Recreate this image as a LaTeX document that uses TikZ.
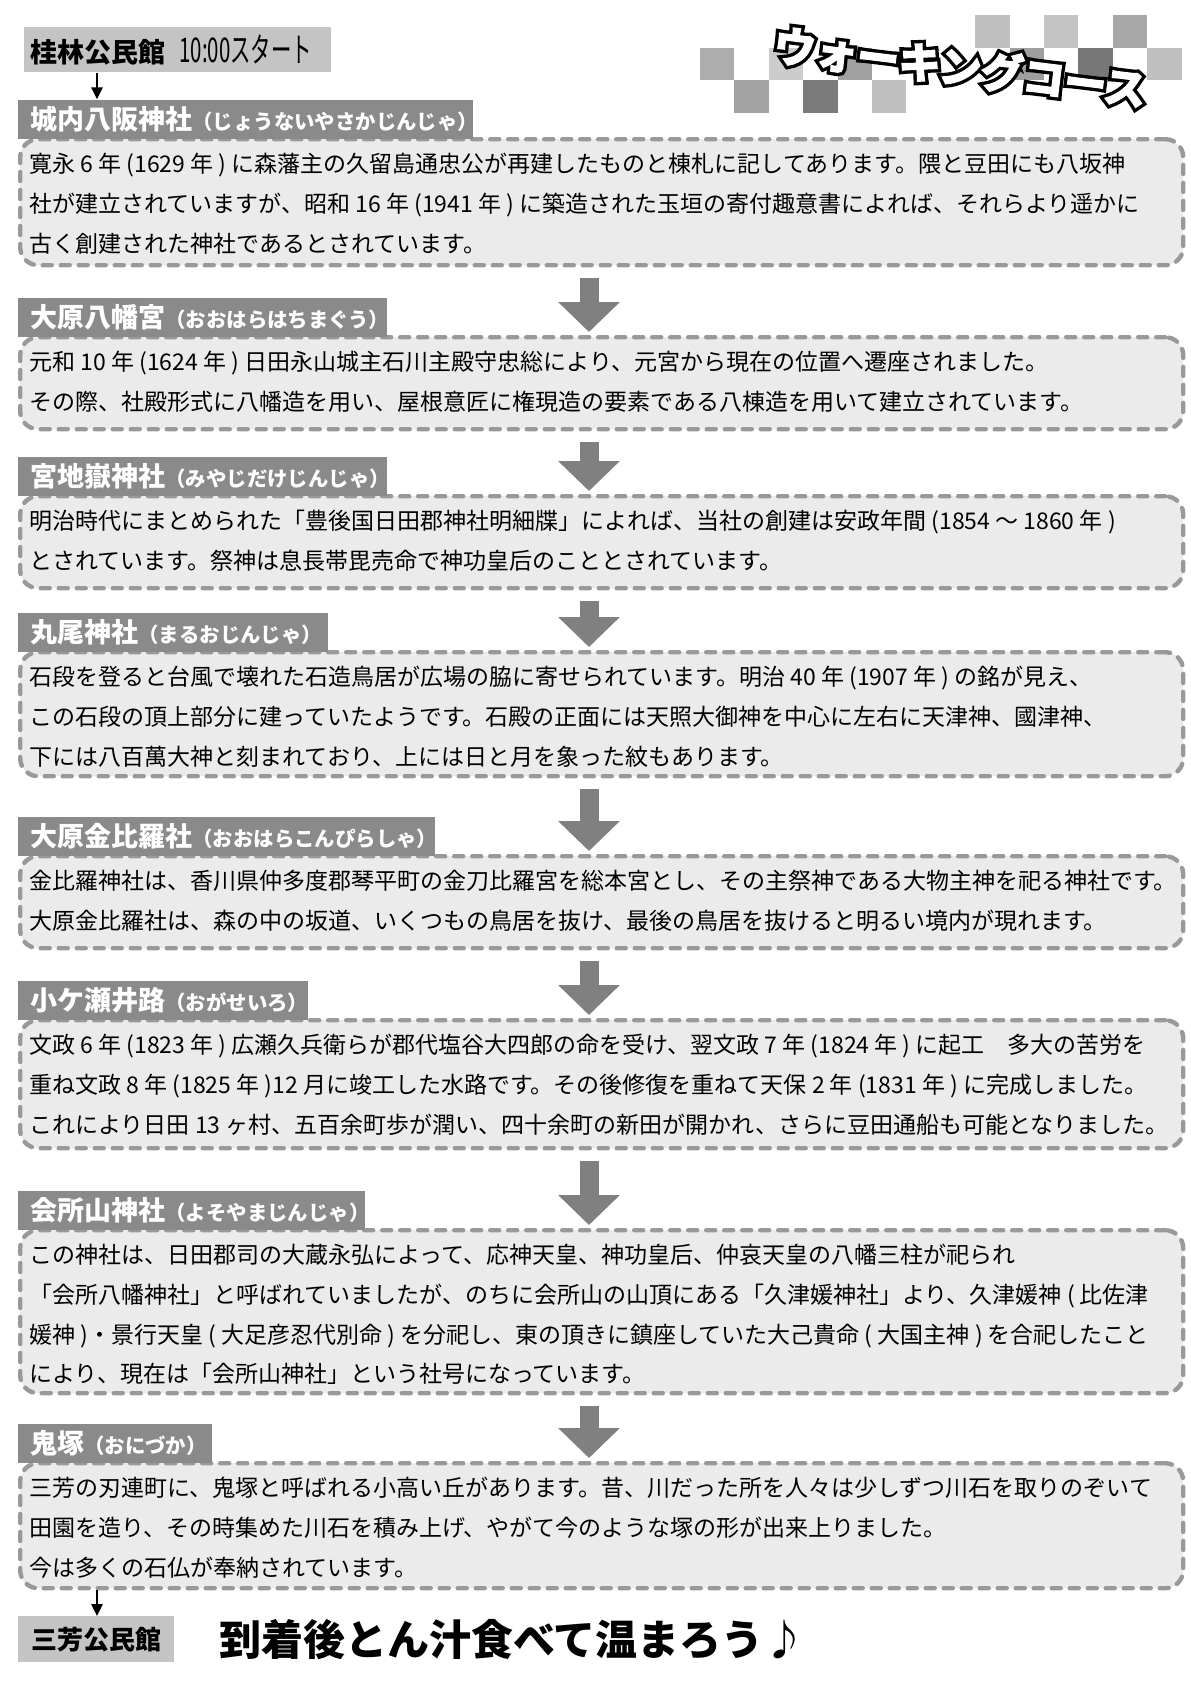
\documentclass[tikz,border=0pt]{standalone}
\usepackage{fontspec}
\setmainfont{Noto Sans CJK JP}
\newfontfamily\narrowfont[FakeStretch=0.6]{Noto Sans CJK JP}
\newfontfamily\rimfont[FakeBold=21]{Noto Sans CJK JP Bold}
\newfontfamily\fillfont[FakeBold=5]{Noto Sans CJK JP Bold}
\usepackage{tikz}
\usetikzlibrary{calc,positioning,arrows.meta}
\newcommand{\yomi}[1]{{\fontsize{10.2bp}{12bp}\selectfont #1}}

\begin{document}
\begin{tikzpicture}[x=1bp,y=-1bp,
  placebox/.style={fill=black!23, anchor=north west, inner xsep=3bp, inner ysep=0pt, align=left},
  titlebar/.style={fill=black!46, text=white, anchor=south west, inner xsep=6bp, inner ysep=0pt, minimum height=19.5bp, align=left, font=\bfseries\fontsize{13.5bp}{15bp}\selectfont},
  bodybox/.style={draw=black!40, fill=black!8, line width=2.2bp, dash pattern=on 4.5bp off 4.5bp, line cap=round, rounded corners=9bp, anchor=north west, minimum width=581.5bp, inner sep=0pt},
  bodytext/.style={anchor=north west, align=left, inner sep=0pt, font=\fontsize{11.5bp}{19.8bp}\selectfont},
  headline/.style={rotate=-7},
  flowarrow/.style={draw=black!50, line width=9.5bp, -{Triangle[width=30bp,length=15bp]}},
  smallarrow/.style={line width=1.2bp, -{Triangle[width=5.5bp,length=6bp]}}]
\useasboundingbox (0,0) rectangle (595.5,842);

\foreach \k/\r/\g in {0/1/32,1/2/36,2/1/20,3/2/52,4/1/37,5/2/25,8/0/25,9/1/38,10/0/23,11/1/53,12/0/34,13/1/25}
  \fill[black!\g] (350+17.2*\k,7.5+16.3*\r) rectangle ++(17.2,16.3);
\node[headline, text=black, font=\rimfont\fontsize{21bp}{24bp}\selectfont] (hdrrim) at (480,33.5) {ウォーキングコース};
\node[headline, text=white, font=\fillfont\fontsize{21bp}{24bp}\selectfont] (hdr) at (hdrrim) {ウォーキングコース};

\node[placebox, text width=147.5bp, minimum height=22.5bp] (start) at (12,13.5) {{\bfseries\fontsize{13.5bp}{15bp}\selectfont 桂林公民館}\hspace{7bp}{\narrowfont\fontsize{17bp}{18bp}\selectfont 10:00スタート}};

\node[bodybox, minimum height=63bp] (box1) at (9,68.5) {};
\node[titlebar, text width=215.5bp] (ttl1) at ([yshift=-1.1bp]box1.north west) {城内八阪神社\yomi{（じょうないやさかじんじゃ）}};
\node[bodytext] (txt1) at ([shift={(5.5,8)}]box1.north west) {寛永 6 年 (1629 年 ) に森藩主の久留島通忠公が再建したものと棟札に記してあります。隈と豆田にも八坂神\\
社が建立されていますが、昭和 16 年 (1941 年 ) に築造された玉垣の寄付趣意書によれば、それらより遥かに\\
古く創建された神社であるとされています。};

\node[bodybox, minimum height=46bp] (box2) at (9,167.5) {};
\node[titlebar, text width=172.5bp] (ttl2) at ([yshift=-1.1bp]box2.north west) {大原八幡宮\yomi{（おおはらはちまぐう）}};
\node[bodytext] (txt2) at ([shift={(5.5,8)}]box2.north west) {元和 10 年 (1624 年 ) 日田永山城主石川主殿守忠総により、元宮から現在の位置へ遷座されました。\\
その際、社殿形式に八幡造を用い、屋根意匠に権現造の要素である八棟造を用いて建立されています。};

\node[bodybox, minimum height=46bp] (box3) at (9,247) {};
\node[titlebar, text width=172.5bp] (ttl3) at ([yshift=-1.1bp]box3.north west) {宮地嶽神社\yomi{（みやじだけじんじゃ）}};
\node[bodytext] (txt3) at ([shift={(5.5,8)}]box3.north west) {明治時代にまとめられた「豊後国日田郡神社明細牒」によれば、当社の創建は安政年間 (1854 ～ 1860 年 )\\
とされています。祭神は息長帯毘売命で神功皇后のこととされています。};

\node[bodybox, minimum height=62bp] (box4) at (9,325) {};
\node[titlebar, text width=143bp] (ttl4) at ([yshift=-1.1bp]box4.north west) {丸尾神社\yomi{（まるおじんじゃ）}};
\node[bodytext] (txt4) at ([shift={(5.5,8)}]box4.north west) {石段を登ると台風で壊れた石造鳥居が広場の脇に寄せられています。明治 40 年 (1907 年 ) の銘が見え、\\
この石段の頂上部分に建っていたようです。石殿の正面には天照大御神を中心に左右に天津神、國津神、\\
下には八百萬大神と刻まれており、上には日と月を象った紋もあります。};

\node[bodybox, minimum height=46bp] (box5) at (9,427) {};
\node[titlebar, text width=196.5bp] (ttl5) at ([yshift=-1.1bp]box5.north west) {大原金比羅社\yomi{（おおはらこんぴらしゃ）}};
\node[bodytext] (txt5) at ([shift={(5.5,8)}]box5.north west) {金比羅神社は、香川県仲多度郡琴平町の金刀比羅宮を総本宮とし、その主祭神である大物主神を祀る神社です。\\
大原金比羅社は、森の中の坂道、いくつもの鳥居を抜け、最後の鳥居を抜けると明るい境内が現れます。};

\node[bodybox, minimum height=64bp] (box6) at (9,509) {};
\node[titlebar, text width=133bp] (ttl6) at ([yshift=-1.1bp]box6.north west) {小ケ瀬井路\yomi{（おがせいろ）}};
\node[bodytext] (txt6) at ([shift={(5.5,8)}]box6.north west) {文政 6 年 (1823 年 ) 広瀬久兵衛らが郡代塩谷大四郎の命を受け、翌文政 7 年 (1824 年 ) に起工　多大の苦労を\\
重ね文政 8 年 (1825 年 )12 月に竣工した水路です。その後修復を重ねて天保 2 年 (1831 年 ) に完成しました。\\
これにより日田 13 ヶ村、五百余町歩が潤い、四十余町の新田が開かれ、さらに豆田通船も可能となりました。};

\node[bodybox, minimum height=81.5bp] (box7) at (9,614) {};
\node[titlebar, text width=161.5bp] (ttl7) at ([yshift=-1.1bp]box7.north west) {会所山神社\yomi{（よそやまじんじゃ）}};
\node[bodytext] (txt7) at ([shift={(5.5,8)}]box7.north west) {この神社は、日田郡司の大蔵永弘によって、応神天皇、神功皇后、仲哀天皇の八幡三柱が祀られ\\
「会所八幡神社」と呼ばれていましたが、のちに会所山の山頂にある「久津媛神社」より、久津媛神 ( 比佐津\\
媛神 )・景行天皇 ( 大足彦忍代別命 ) を分祀し、東の頂きに鎮座していた大己貴命 ( 大国主神 ) を合祀したこと\\
により、現在は「会所山神社」という社号になっています。};

\node[bodybox, minimum height=62.5bp] (box8) at (9,730.5) {};
\node[titlebar, text width=85bp] (ttl8) at ([yshift=-1.1bp]box8.north west) {鬼塚\yomi{（おにづか）}};
\node[bodytext] (txt8) at ([shift={(5.5,8)}]box8.north west) {三芳の刃連町に、鬼塚と呼ばれる小高い丘があります。昔、川だった所を人々は少しずつ川石を取りのぞいて\\
田園を造り、その時集めた川石を積み上げ、やがて今のような塚の形が出来上りました。\\
今は多くの石仏が奉納されています。};

\node[placebox, minimum width=78bp, minimum height=23bp, align=center, font=\bfseries\fontsize{13bp}{15bp}\selectfont] (goal) at (9,808) {三芳公民館};
\node[anchor=west, font=\bfseries\fontsize{21bp}{23bp}\selectfont] (cheer) at (106,820) {到着後とん汁食べて温まろう♪};

\coordinate (ax) at (294.5,0);
\coordinate (sa) at (48.5,0);
\foreach \i [evaluate=\i as \j using int(\i+1)] in {1,...,7}
  \draw[flowarrow] ([yshift=-5.5bp]box\i.south -| ax) -- ([yshift=1.5bp]box\j.north -| ax);
\draw[smallarrow] (start.south -| sa) -- (ttl1.north -| sa);
\draw[smallarrow] (box8.south -| sa) -- (goal.north -| sa);

\end{tikzpicture}
\end{document}
